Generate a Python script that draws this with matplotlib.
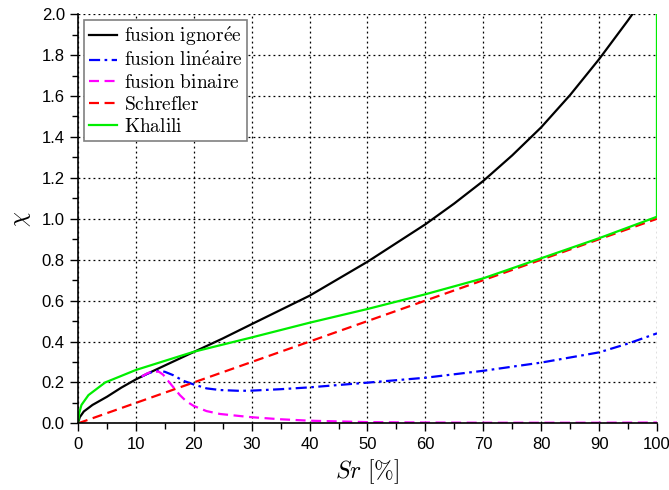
import matplotlib
matplotlib.use('Agg')
import matplotlib.pyplot as plt
from matplotlib.ticker import MultipleLocator, FormatStrFormatter

plt.rcParams['mathtext.fontset'] = 'cm'

# données
sr_ign = [0, 0.3, 1, 2.5, 5, 7.5, 10, 12, 15, 20, 25, 30, 40, 50, 60, 65, 70, 75, 80, 85,
          90, 95, 97]
chi_ign = [0, 0.03, 0.058, 0.09, 0.13, 0.175, 0.215, 0.243, 0.283, 0.349, 0.415, 0.485,
           0.624, 0.79, 0.973, 1.075, 1.185, 1.31, 1.447, 1.605, 1.78, 1.97, 2.05]

sr_lin = [11, 12, 13, 14, 15, 16.4, 18.2, 20, 22.2, 24.5, 27.9, 30, 35, 40, 50, 60, 70,
          80, 90, 95, 100]
chi_lin = [0.229, 0.243, 0.253, 0.257, 0.252, 0.236, 0.208, 0.19, 0.171, 0.163, 0.159,
           0.16, 0.167, 0.176, 0.199, 0.223, 0.257, 0.297, 0.347, 0.39, 0.44]

sr_bin = [11, 12, 13, 14, 14.7, 15.5, 16.4, 17.6, 18.7, 20, 22.2, 24.5, 27.9, 30, 35, 40,
          50, 60, 70, 80, 90, 100]
chi_bin = [0.229, 0.245, 0.255, 0.252, 0.238, 0.21, 0.179, 0.138, 0.108, 0.085, 0.06,
           0.046, 0.036, 0.03, 0.02, 0.013, 0.006, 0.004, 0.003, 0.003, 0.003, 0.004]

sr_sch = [0, 100]
chi_sch = [0, 1.0]

sr_kha = [0, 0.2, 0.6, 1.8, 4.7, 10, 20, 30, 40, 50, 60, 70, 80, 90, 100, 100]
chi_kha = [0, 0.05, 0.09, 0.138, 0.2, 0.261, 0.35, 0.42, 0.492, 0.559, 0.631, 0.709,
           0.807, 0.905, 1.01, 2.1]

labels = [r'$\mathrm{fusion\ ignor\acute{e}e}$',
          r'$\mathrm{fusion\ lin\acute{e}aire}$',
          r'$\mathrm{fusion\ binaire}$',
          r'$\mathrm{Schrefler}$',
          r'$\mathrm{Khalili}$']

fig = plt.figure(figsize=(6.69, 4.9), dpi=100)
ax = fig.add_axes([0.1166, 0.136, 0.8654, 0.835])

lw = 1.6
ax.plot(sr_ign, chi_ign, color='black', lw=lw, label=labels[0])
ax.plot(sr_lin, chi_lin, color='blue', lw=lw, dashes=(5, 2, 1.2, 2), label=labels[1])
ax.plot(sr_bin, chi_bin, color='magenta', lw=lw, dashes=(4.5, 2.5), label=labels[2])
ax.plot(sr_sch, chi_sch, color='red', lw=lw, dashes=(4.5, 2.5), label=labels[3])
ax.plot(sr_kha, chi_kha, color='#00ee00', lw=lw, label=labels[4])

ax.set_xlim(0, 100)
ax.set_ylim(0, 2.0)
ax.xaxis.set_major_locator(MultipleLocator(10))
ax.xaxis.set_minor_locator(MultipleLocator(5))
ax.yaxis.set_major_locator(MultipleLocator(0.2))
ax.yaxis.set_minor_locator(MultipleLocator(0.1))
ax.yaxis.set_major_formatter(FormatStrFormatter('%.1f'))
ax.tick_params(which='major', length=6, width=1, labelsize=12)
ax.tick_params(which='minor', length=4, width=1)
for lab in ax.get_xticklabels() + ax.get_yticklabels():
    lab.set_fontfamily('Liberation Sans')

ax.grid(True, which='major', color='black', linestyle=(0, (1.5, 2.5)), lw=0.9)
ax.spines['top'].set_visible(False)
ax.spines['right'].set_visible(False)
ax.spines['left'].set_linewidth(1.2)
ax.spines['bottom'].set_linewidth(1.2)

ax.set_xlabel(r'$Sr\ [\%]$', fontsize=17, labelpad=4)
ax.set_ylabel(r'$\chi$', fontsize=17, labelpad=6)

leg = ax.legend(loc='upper left', prop={'size': 14},
                fancybox=False, framealpha=1, edgecolor='gray', borderaxespad=0.3,
                handlelength=1.45, labelspacing=0.15, borderpad=0.25, handletextpad=0.35)
leg.get_frame().set_linewidth(1.2)

plt.savefig('out.png', dpi=100)
